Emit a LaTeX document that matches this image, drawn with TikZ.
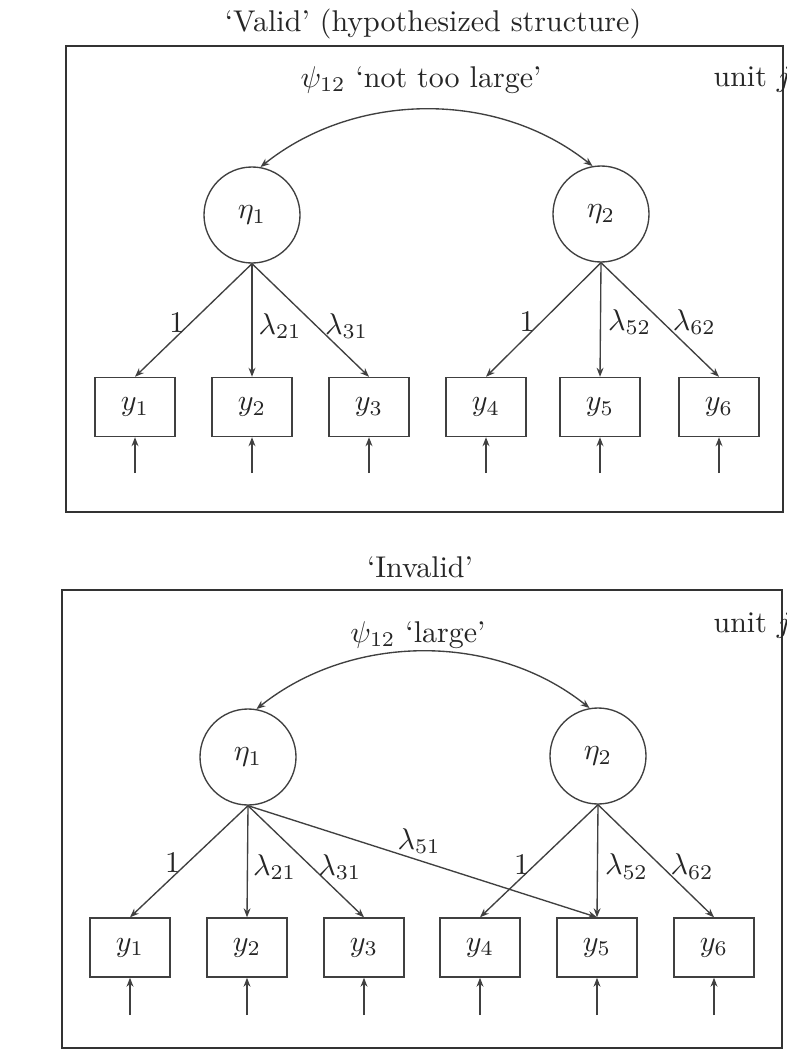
\documentclass[tikz,border=0pt]{standalone}
\usepackage{fontspec}
\usetikzlibrary{arrows.meta,calc}
\begin{document}
\begin{tikzpicture}[x=0.33333pt,y=-0.33333pt,
  every node/.style={font=\normalsize, text=black!85},
  lat/.style={draw=black!75, line width=0.45pt, circle, minimum size=32pt, inner sep=0pt},
  obs/.style={draw=black!75, line width=0.45pt, rectangle, minimum width=26.7pt, minimum height=19.7pt, inner sep=0pt},
  frame/.style={draw=black!80, line width=0.7pt},
  conn/.style={draw=black!75, line width=0.45pt, -{Stealth[length=3pt,width=2.3pt]}},
  cov/.style={draw=black!75, line width=0.45pt, {Stealth[length=3pt,width=2.3pt]}-{Stealth[length=3pt,width=2.3pt]}},
  lab/.style={inner sep=0pt},
]
\fill[white] (0,0) rectangle (786,1052);
\useasboundingbox (0,0) rectangle (786,1052);
\clip (0,0) rectangle (786,1052);

% ---------- top panel ----------
\node (t1) at (433,24) {`Valid' (hypothesized structure)};
\draw[frame] (66,46) rectangle (783,512);
\node[anchor=base west, inner sep=0pt] (u1) at (713,87) {unit $j$};
\node (p1) at (421,80) {$\psi_{12}$ `not too large'};
\node[lat] (a1) at (252,215) {$\eta_1$};
\node[lat] (a2) at (601,214) {$\eta_2$};
\foreach \i/\x in {1/135,2/252,3/369,4/486,5/600,6/719}{
  \node[obs] (ay\i) at (\x,407) {$y_{\i}$};
  \coordinate (ae\i) at (\x,473);
  \draw[conn] (ae\i) -- (ay\i.south);
}
\draw[cov] (a1.80) .. controls ($(a1.80)+(95,-76)$) and ($(a2.100)+(-95,-76)$) .. (a2.100);
\draw[conn] (a1.south) -- node[lab,pos=0.52,left=2pt]{$1$} (ay1.north);
\draw[conn] (a1.south) -- node[lab,pos=0.55,right=2pt]{$\lambda_{21}$} (ay2.north);
\draw[conn] (a1.south) -- node[lab,pos=0.55,right=2.7pt]{$\lambda_{31}$} (ay3.north);
\draw[conn] (a2.south) -- node[lab,pos=0.52,left=2pt]{$1$} (ay4.north);
\draw[conn] (a2.south) -- node[lab,pos=0.52,right=2.3pt]{$\lambda_{52}$} (ay5.north);
\draw[conn] (a2.south) -- node[lab,pos=0.52,right=3.3pt]{$\lambda_{62}$} (ay6.north);

% ---------- bottom panel ----------
\node (t2) at (420,567) {`Invalid'};
\draw[frame] (62,590) rectangle (782,1048);
\node[anchor=base west, inner sep=0pt] (u2) at (713,632) {unit $j$};
\node (p2) at (418,635) {$\psi_{12}$ `large'};
\node[lat] (b1) at (248,757) {$\eta_1$};
\node[lat] (b2) at (598,756) {$\eta_2$};
\foreach \i/\x in {1/130,2/247,3/364,4/480,5/597,6/714}{
  \node[obs] (by\i) at (\x,947.5) {$y_{\i}$};
  \coordinate (be\i) at (\x,1015);
  \draw[conn] (be\i) -- (by\i.south);
}
\draw[cov] (b1.80) .. controls ($(b1.80)+(95,-76)$) and ($(b2.100)+(-95,-76)$) .. (b2.100);
\draw[conn] (b1.south) -- node[lab,pos=0.51,left=2.3pt]{$1$} (by1.north);
\draw[conn] (b1.south) -- node[lab,pos=0.55,right=1.7pt]{$\lambda_{21}$} (by2.north);
\draw[conn] (b1.south) -- node[lab,pos=0.55,right=2pt]{$\lambda_{31}$} (by3.north);
\draw[conn] (b1.south) -- node[lab,pos=0.49,above=2pt]{$\lambda_{51}$} (by5.north);
\draw[conn] (b2.south) -- node[lab,pos=0.535,left=1.7pt]{$1$} (by4.north);
\draw[conn] (b2.south) -- node[lab,pos=0.55,right=2.3pt]{$\lambda_{52}$} (by5.north);
\draw[conn] (b2.south) -- node[lab,pos=0.55,right=2.7pt]{$\lambda_{62}$} (by6.north);
\end{tikzpicture}
\end{document}
